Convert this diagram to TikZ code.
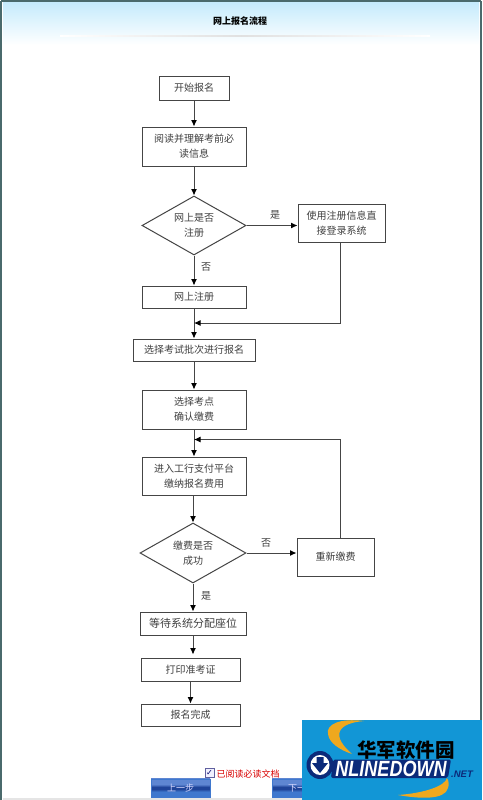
\documentclass[tikz,border=0pt]{standalone}
\usepackage{fontspec}
\usepackage{graphicx}
\setmainfont{Noto Sans CJK SC}
\newfontfamily\latinb{Liberation Sans}[BoldFont={Liberation Sans Bold},BoldItalicFont={Liberation Sans Bold Italic}]
\newfontfamily\symfont{DejaVu Sans}
\usetikzlibrary{arrows.meta,shapes.geometric,calc}
\definecolor{edge}{HTML}{454545}
\definecolor{frame}{HTML}{4A6A6C}
\definecolor{logoblue}{HTML}{1296D6}
\definecolor{logoorange}{HTML}{EFA81E}
\definecolor{logonavy}{HTML}{0B2A7A}
\definecolor{headblue}{HTML}{C6EBFC}
\definecolor{btntop}{HTML}{5E86D2}
\definecolor{btnmid}{HTML}{1F4499}
\definecolor{btnlow}{HTML}{3F78CE}
\pgfdeclareverticalshading{btnshade}{100bp}{
 color(0bp)=(btnlow); color(30bp)=(btnlow); color(40bp)=(btnlow);
 color(47bp)=(btnmid); color(53bp)=(btnmid); color(60bp)=(btntop);
 color(100bp)=(btntop)}
\tikzset{
 x=1pt,y=-1pt,
 box/.style={draw=edge,line width=1pt,fill=white,inner sep=0pt,font=\fontsize{10}{15}\selectfont,text=black!75,align=center},
 dec/.style={diamond,draw=edge,line width=1pt,fill=white,inner sep=0pt,aspect=1.75,font=\fontsize{10}{15}\selectfont,text=black!75,align=center},
 link/.style={draw=edge,line width=1pt,-{Latex[length=6.5pt,width=6pt,color=black]}},
 lab/.style={font=\fontsize{10}{13}\selectfont,text=black!75,inner sep=0pt},
 btn/.style={draw=btnlow,line width=.4pt,shading=btnshade,font=\fontsize{9}{11}\selectfont,text=white!85!blue,inner sep=0pt}
}
\begin{document}
\begin{tikzpicture}
\useasboundingbox (0,0) rectangle (482,800);
\fill[white] (0,0) rectangle (482,800);
\shade[top color=headblue,bottom color=white] (3,3) rectangle (479,45);
\shade[left color=white,right color=black!12,draw=none] (60,35.7) rectangle (241,36.5);
\shade[left color=black!12,right color=white,draw=none] (241,35.7) rectangle (430,36.5);
\fill[black!10] (3,798) rectangle (302,800);
\draw[frame,line width=2pt] (1,1) -- (481,1);
\draw[frame,line width=2pt] (1,1) -- (1,800);
\draw[frame,line width=2pt] (481,1) -- (481,800);
\node[font=\bfseries\fontsize{9}{12}\selectfont,inner sep=0pt] (title) at (240,21.5) {网上报名流程};

\node[box,minimum width=70pt,minimum height=24pt] (start) at (194,88) {\raisebox{-1pt}{开始报名}};
\node[box,minimum width=104pt,minimum height=39pt] (read) at (194,146.5) {阅读并理解考前必\\读信息};
\node[dec,minimum width=104pt,minimum height=59pt] (q1) at (194,225.5) {网上是否\\注册};
\node[box,minimum width=87pt,minimum height=38pt] (login) at (341.5,223) {使用注册信息直\\接登录系统};
\node[box,minimum width=104pt,minimum height=22pt] (reg) at (194,297) {\raisebox{-1pt}{网上注册}};
\coordinate (m1) at (194,323);
\node[box,minimum width=122pt,minimum height=22pt] (batch) at (194,350) {\raisebox{-1pt}{选择考试批次进行报名}};
\node[box,minimum width=104pt,minimum height=39pt] (site) at (194,409.5) {选择考点\\确认缴费};
\coordinate (m2) at (194,439.5);
\node[box,minimum width=104pt,minimum height=38pt] (pay) at (194,476) {进入工行支付平台\\缴纳报名费用};
\node[dec,minimum width=106pt,minimum height=60pt] (q2) at (193,553) {缴费是否\\成功};
\node[box,minimum width=77pt,minimum height=38pt] (repay) at (335.5,557) {\raisebox{-1pt}{重新缴费}};
\node[box,minimum width=106pt,minimum height=23pt,font=\fontsize{11}{15}\selectfont] (wait) at (193,623.5) {\raisebox{-1pt}{等待系统分配座位}};
\node[box,minimum width=99pt,minimum height=23pt] (print) at (190.5,669.5) {\raisebox{-1pt}{打印准考证}};
\node[box,minimum width=99pt,minimum height=22pt] (done) at (190.5,715) {\raisebox{-1pt}{报名完成}};

\node[lab] (yes1) at (275,215) {是};
\node[lab] (no1) at (206,267) {否};
\node[lab] (no2) at (266,543) {否};
\node[lab] (yes2) at (206,596) {是};

\draw[link] (start) -- (read);
\draw[link] (read) -- (q1);
\draw[link] (q1.east) -- (q1.east -| login.west);
\draw[link] (q1) -- (reg);
\draw[link] (reg) -- (batch);
\coordinate (lo) at (340.5,242);
\draw[link] (lo) |- (m1);
\draw[link] (batch) -- (site);
\draw[link] (site) -- (pay);
\coordinate (rn) at (340.5,538);
\draw[link] (rn) |- (m2);
\draw[link] (q2.north |- pay.south) -- (q2.north);
\draw[link] (q2.east) -- (q2.east -| repay.west);
\draw[link] (q2) -- (wait);
\draw[link,shorten >=3pt] (wait.south) -- (wait.south |- print.north);
\draw[link] (print) -- (done);

% footer
\node[draw=blue!25!gray,fill=blue!6,minimum size=8.5pt,inner sep=0pt,font=\symfont\fontsize{8}{8}\selectfont,text=blue!40!black] (chk) at (209.5,772.5) {✓};
\node[font=\fontsize{9}{11}\selectfont,text=red!85!black,inner sep=0pt,anchor=west] (read2) at (216.5,774) {已阅读必读文档};
\node[btn,minimum width=59pt,minimum height=18.5pt] (prev) at (180.5,788) {上一步};
\node[btn,minimum width=59pt,minimum height=18.5pt] (next) at (301.5,788) {下一步};

% logo
\fill[logoblue] (302,720) rectangle (482,800);
\fill[logoorange] (364,721) .. controls (340,718) and (326,724) .. (328,734) .. controls (329,743) and (340,750) .. (352,754) .. controls (343,746) and (337,738) .. (340,731) .. controls (343,725) and (352,722) .. (364,721) -- cycle;
\fill[logoorange] (398,795) .. controls (420,799) and (445,800) .. (448,788) .. controls (449,785) and (449,781) .. (447,778) .. controls (445,786) and (425,793) .. (398,795) -- cycle;
\node[font=\bfseries\fontsize{19.5}{22}\selectfont,text=black,inner sep=0pt] (cn) at (406,750) {华军软件园};
\fill[logonavy,rounded corners=2pt] (333,759.5) -- (451,759.5) -- (448,778) -- (331,778) -- cycle;
\fill[logonavy] (320,765) ellipse (13.5 and 14);
\fill[white] (320,765) ellipse (9.5 and 10);
\fill[logonavy] (320,773) -- (312,763) -- (316.5,763) -- (316.5,757) -- (323.5,757) -- (323.5,763) -- (328,763) -- cycle;
\node[font=\latinb\bfseries\itshape\fontsize{22}{24}\selectfont,text=white,inner sep=0pt] (ol) at (391,768.5) {\scalebox{.82}[1]{NLINEDOWN}};
\node[font=\latinb\bfseries\itshape\fontsize{9.5}{10}\selectfont,text=logonavy,inner sep=0pt,anchor=west] (net) at (451,774) {.NET};
\end{tikzpicture}
\end{document}
